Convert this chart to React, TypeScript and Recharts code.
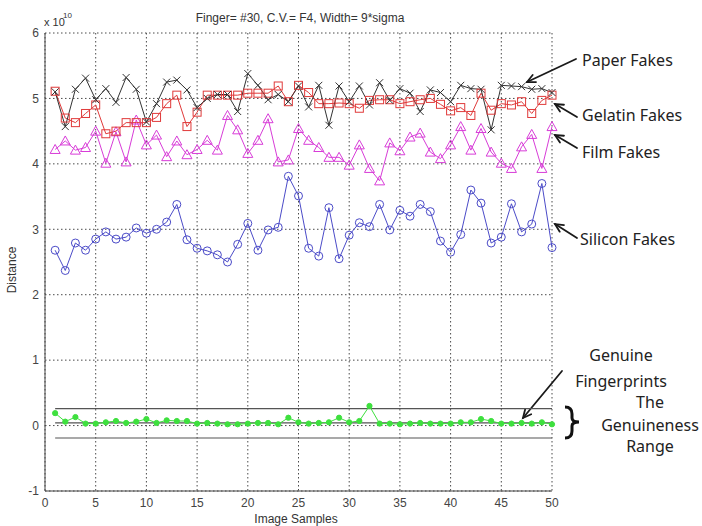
import React from 'react';
import { LineChart, Line, XAxis, YAxis, CartesianGrid, ReferenceLine, Customized } from 'recharts';

const samples = Array.from({ length: 50 }, (_, k) => k + 1);
const xTicks = [0, 5, 10, 15, 20, 25, 30, 35, 40, 45, 50];
const yTicks = [-1, 0, 1, 2, 3, 4, 5, 6];

const paperFakes = [5.10, 4.57, 5.14, 5.31, 4.98, 5.15, 4.94, 5.32, 5.14, 4.64, 4.92, 5.25, 5.28, 5.13, 4.86, 5.00, 5.06, 5.06, 4.80, 5.38, 5.20, 4.98, 5.06, 4.95, 5.19, 4.87, 5.20, 4.59, 5.19, 4.95, 5.19, 4.90, 5.24, 4.97, 5.15, 5.08, 4.80, 5.13, 5.09, 4.95, 5.20, 5.15, 5.14, 4.52, 5.20, 5.19, 5.18, 5.14, 5.15, 5.09];
const gelatinFakes = [5.11, 4.70, 4.63, 4.77, 4.90, 4.46, 4.50, 4.63, 4.63, 4.63, 4.71, 4.92, 5.05, 4.57, 4.79, 5.05, 5.05, 5.05, 5.05, 5.08, 5.08, 5.08, 5.19, 4.95, 5.20, 5.09, 4.92, 4.92, 4.93, 4.92, 4.85, 4.97, 4.98, 4.98, 4.92, 4.95, 4.98, 5.00, 4.91, 4.81, 4.86, 4.74, 5.08, 4.82, 4.92, 4.90, 4.95, 4.77, 4.97, 5.05];
const filmFakes = [4.22, 4.35, 4.21, 4.25, 4.50, 4.01, 4.49, 4.03, 4.67, 4.29, 4.44, 4.11, 4.35, 4.14, 4.22, 4.36, 4.21, 4.74, 4.52, 4.16, 4.36, 4.69, 4.03, 4.06, 4.54, 4.36, 4.25, 4.10, 4.10, 3.98, 4.29, 3.93, 3.74, 4.32, 4.20, 4.41, 4.47, 4.18, 4.08, 4.29, 4.57, 4.21, 4.54, 4.18, 4.01, 3.93, 4.26, 4.45, 3.93, 4.57];
const siliconFakes = [2.68, 2.37, 2.79, 2.68, 2.85, 2.96, 2.85, 2.88, 3.02, 2.94, 3.00, 3.11, 3.38, 2.84, 2.71, 2.67, 2.61, 2.50, 2.77, 3.09, 2.68, 2.99, 3.03, 3.81, 3.51, 2.71, 2.59, 3.33, 2.55, 2.91, 3.10, 3.04, 3.38, 2.99, 3.29, 3.20, 3.38, 3.27, 2.82, 2.65, 2.92, 3.60, 3.40, 2.79, 2.88, 3.39, 2.96, 3.08, 3.70, 2.72];
const genuine = [0.19, 0.06, 0.13, 0.03, 0.03, 0.05, 0.07, 0.04, 0.06, 0.10, 0.04, 0.08, 0.07, 0.07, 0.03, 0.04, 0.03, 0.02, 0.02, 0.03, 0.04, 0.04, 0.02, 0.12, 0.05, 0.03, 0.04, 0.05, 0.12, 0.05, 0.07, 0.30, 0.03, 0.03, 0.02, 0.03, 0.04, 0.03, 0.03, 0.03, 0.05, 0.05, 0.10, 0.07, 0.03, 0.03, 0.04, 0.03, 0.05, 0.02];
const rangeUpper = 0.26;
const rangeMean = 0.04;
const rangeLower = -0.19;

const data = samples.map((s, k) => ({
  x: s,
  paper: paperFakes[k],
  gelatin: gelatinFakes[k],
  film: filmFakes[k],
  silicon: siliconFakes[k],
  genuine: genuine[k],
}));

const XDot = (p: any) => {
  const { cx, cy, index } = p;
  const s = 3.5;
  return <path key={`px-${index}`} d={`M${cx - s},${cy - s}L${cx + s},${cy + s}M${cx - s},${cy + s}L${cx + s},${cy - s}`} stroke="#333" strokeWidth={1} fill="none" />;
};
const SqDot = (p: any) => {
  const { cx, cy, index } = p;
  return <rect key={`sq-${index}`} x={cx - 4} y={cy - 4} width={8} height={8} stroke="#e03a3a" strokeWidth={1} fill="none" />;
};
const TriDot = (p: any) => {
  const { cx, cy, index } = p;
  return <path key={`tr-${index}`} d={`M${cx},${cy - 5}L${cx + 5},${cy + 4}L${cx - 5},${cy + 4}Z`} stroke="#d83cd8" strokeWidth={1} fill="none" />;
};
const CircDot = (p: any) => {
  const { cx, cy, index } = p;
  return <circle key={`ci-${index}`} cx={cx} cy={cy} r={4} stroke="#4b4bc8" strokeWidth={1} fill="none" />;
};
const StarDot = (p: any) => {
  const { cx, cy, index } = p;
  return <circle key={`st-${index}`} cx={cx} cy={cy} r={2.6} fill="#3ee03e" stroke="#3ee03e" />;
};

const tickStyle = { fill: '#444', fontSize: 12, fontFamily: 'Liberation Sans, Arial, sans-serif' };

const Arrow = ({ x1, y1, x2, y2 }: { x1: number; y1: number; x2: number; y2: number }) => {
  const a = Math.atan2(y2 - y1, x2 - x1);
  const L = 9;
  const w = 0.45;
  const p1 = [x2 - L * Math.cos(a - w), y2 - L * Math.sin(a - w)];
  const p2 = [x2 - L * Math.cos(a + w), y2 - L * Math.sin(a + w)];
  return (
    <g stroke="#1a1a1a" strokeWidth={1.8} fill="none" strokeLinecap="round">
      <line x1={x1} y1={y1} x2={x2} y2={y2} />
      <polyline points={`${p1[0]},${p1[1]} ${x2},${y2} ${p2[0]},${p2[1]}`} />
    </g>
  );
};

const Annotations = () => {
  const annFont = { fontFamily: 'Noto Sans, sans-serif', fontSize: 16, fill: '#222' };
  const small = { fontFamily: 'Liberation Sans, Arial, sans-serif', fill: '#333' };
  return (
    <g className="annotations">
      <text x={300} y={22} textAnchor="middle" fontSize={12} {...small}>Finger= #30, C.V.= F4, Width= 9*sigma</text>
      <text x={44} y={26} fontSize={11} {...small}>x 10</text>
      <text x={63} y={18} fontSize={8} {...small}>10</text>
      <text x={16} y={270} transform="rotate(-90 16 270)" textAnchor="middle" fontSize={12} {...small}>Distance</text>
      <text x={296} y={523} textAnchor="middle" fontSize={12} {...small}>Image Samples</text>

      <text x={582} y={66} {...annFont}>Paper Fakes</text>
      <text x={582} y={121} {...annFont}>Gelatin Fakes</text>
      <text x={582} y={158} {...annFont}>Film Fakes</text>
      <text x={580} y={245} {...annFont}>Silicon Fakes</text>
      <text x={621} y={361} textAnchor="middle" {...annFont}>Genuine</text>
      <text x={621} y={387} textAnchor="middle" {...annFont}>Fingerprints</text>
      <text x={650} y={408} textAnchor="middle" {...annFont}>The</text>
      <text x={650} y={431} textAnchor="middle" {...annFont}>Genuineness</text>
      <text x={650} y={452} textAnchor="middle" {...annFont}>Range</text>

      <Arrow x1={576} y1={59} x2={527} y2={82} />
      <Arrow x1={577} y1={117} x2={555} y2={104} />
      <Arrow x1={577} y1={148} x2={555} y2={135} />
      <Arrow x1={577} y1={238} x2={555} y2={224} />
      <Arrow x1={562} y1={371} x2={523} y2={418} />
      <path d="M565,407 Q572,407 572,414 L572,418 Q572,422 579,422 Q572,422 572,426 L572,431 Q572,438 565,438" stroke="#111" strokeWidth={3} fill="none" />
    </g>
  );
};

export default function App() {
  return (
    <div style={{ position: 'absolute', left: 0, top: 0, width: 702, height: 526 }}>
      <LineChart width={702} height={526} data={data} margin={{ top: 33, right: 150, bottom: 0, left: 0 }}>
        <CartesianGrid stroke="#4a4a4a" strokeDasharray="1.5 2.5" />
        <XAxis dataKey="x" type="number" domain={[0, 50]} ticks={xTicks} height={35} stroke="#444" tickLine={false} tickSize={0} tickMargin={7} tick={tickStyle} />
        <YAxis type="number" domain={[-1, 6]} ticks={yTicks} width={45} stroke="#444" tickLine={false} tickSize={0} tickMargin={6} tick={tickStyle} />
        <ReferenceLine segment={[{ x: 1, y: rangeUpper }, { x: 50, y: rangeUpper }]} stroke="#555" strokeWidth={1.2} />
        <ReferenceLine segment={[{ x: 1, y: rangeMean }, { x: 50, y: rangeMean }]} stroke="#555" strokeWidth={1.2} />
        <ReferenceLine segment={[{ x: 1, y: rangeLower }, { x: 50, y: rangeLower }]} stroke="#555" strokeWidth={1.2} />
        <Line dataKey="genuine" stroke="#3ee03e" strokeWidth={1} dot={StarDot} isAnimationActive={false} />
        <Line dataKey="silicon" stroke="#4b4bc8" strokeWidth={1} dot={CircDot} isAnimationActive={false} />
        <Line dataKey="film" stroke="#d83cd8" strokeWidth={1} dot={TriDot} isAnimationActive={false} />
        <Line dataKey="gelatin" stroke="#e03a3a" strokeWidth={1} dot={SqDot} isAnimationActive={false} />
        <Line dataKey="paper" stroke="#333" strokeWidth={1} dot={XDot} isAnimationActive={false} />
        <Customized component={Annotations} />
      </LineChart>
    </div>
  );
}
